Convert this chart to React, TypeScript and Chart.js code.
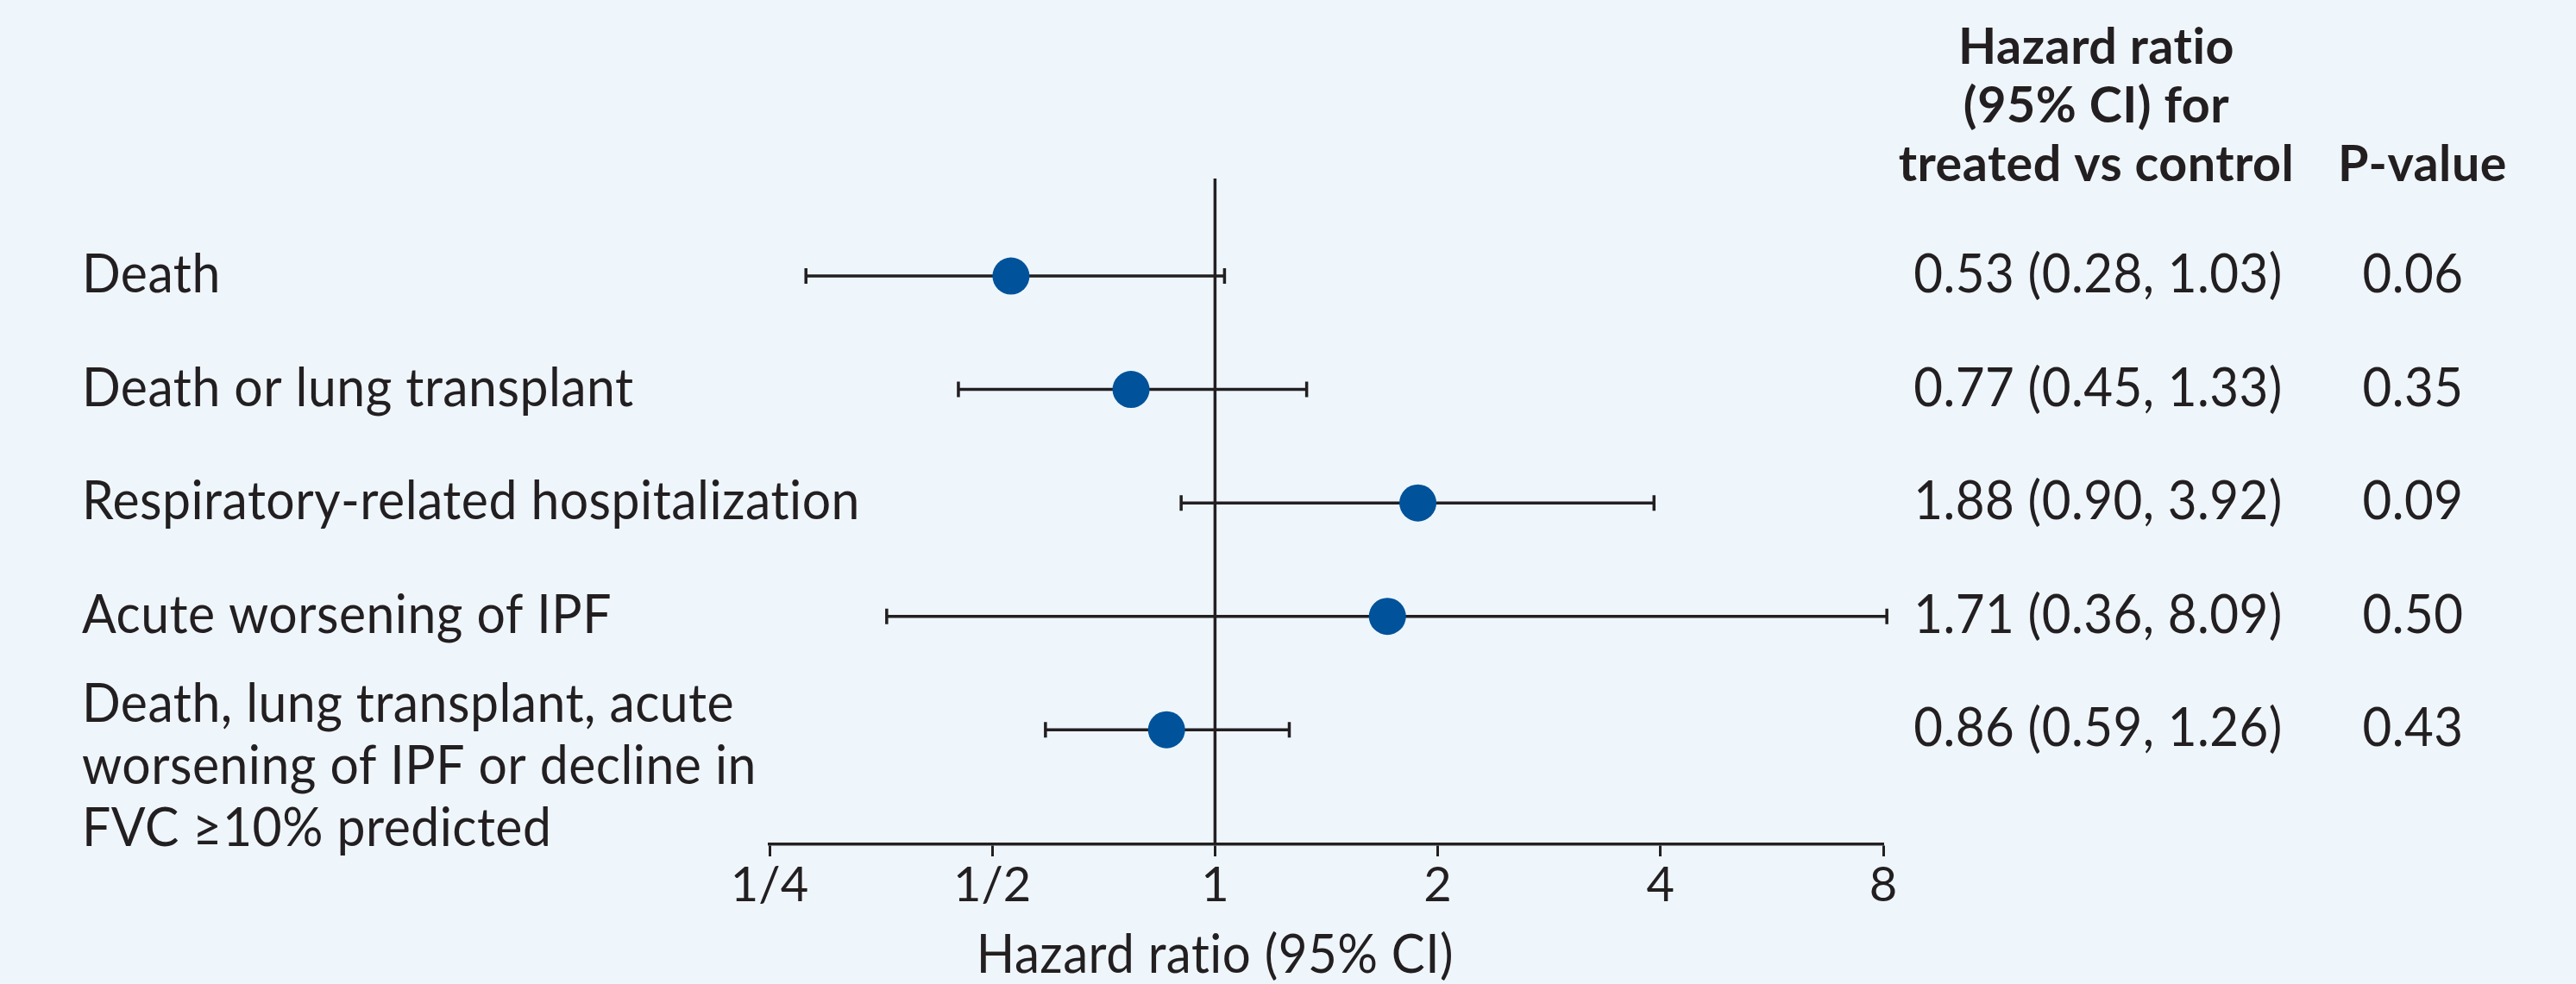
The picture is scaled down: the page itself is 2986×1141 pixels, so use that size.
import { useEffect, useRef } from "react";
import { Chart, registerables } from "chart.js";

Chart.register(...registerables);

// ---------- data ----------
const outcomeLabels: string[][] = [
  ["Death"],
  ["Death or lung transplant"],
  ["Respiratory-related hospitalization"],
  ["Acute worsening of IPF"],
  ["Death, lung transplant, acute", "worsening of IPF or decline in", "FVC \u226510% predicted"],
];
const hazardRatios = [0.53, 0.77, 1.88, 1.71, 0.86];
const ciLower = [0.28, 0.45, 0.9, 0.36, 0.59];
const ciUpper = [1.03, 1.33, 3.92, 8.09, 1.26];
const pValues = ["0.06", "0.35", "0.09", "0.50", "0.43"];
const tickValues = [0.25, 0.5, 1, 2, 4, 8];
const tickLabels = ["1/4", "1/2", "1", "2", "4", "8"];
const hrHeader = ["Hazard ratio", "(95% CI) for", "treated vs control"];
const pHeader = "P-value";
const axisTitle = "Hazard ratio (95% CI)";

// ---------- style ----------
const ink = "#231F20";
const dotColor = "#00529B";
const bg = "#EEF6FC";
const FAMILY = "Lato, 'Open Sans', sans-serif";
const W = 2986;
const H = 1141;

const fmt = (v: number) => v.toFixed(2);

function drawText(
  ctx: CanvasRenderingContext2D,
  text: string,
  x: number,
  y: number,
  font: string,
  align: CanvasTextAlign,
  sx: number
) {
  ctx.save();
  ctx.font = font;
  ctx.fillStyle = ink;
  ctx.textAlign = align;
  ctx.textBaseline = "alphabetic";
  try {
    (ctx as any).letterSpacing = "0.5px";
  } catch (e) {
    /* ignore */
  }
  ctx.translate(x, y);
  ctx.scale(sx, 1);
  ctx.fillText(text, 0, 0);
  ctx.restore();
}

const errorBarPlugin = {
  id: "errorBars",
  beforeDatasetDraw(chart: any, args: any) {
    if (args.index !== 1) return;
    const { ctx } = chart;
    const xs = chart.scales.x;
    const ys = chart.scales.y;
    ctx.save();
    ctx.strokeStyle = ink;
    ctx.lineWidth = 3.5;
    hazardRatios.forEach((_, i) => {
      const y = ys.getPixelForValue(i);
      const x1 = xs.getPixelForValue(ciLower[i]);
      const x2 = xs.getPixelForValue(ciUpper[i]);
      ctx.beginPath();
      ctx.moveTo(x1, y);
      ctx.lineTo(x2, y);
      ctx.moveTo(x1, y - 9);
      ctx.lineTo(x1, y + 9);
      ctx.moveTo(x2, y - 9);
      ctx.lineTo(x2, y + 9);
      ctx.stroke();
    });
    ctx.restore();
  },
};

const textPlugin = {
  id: "forestText",
  afterDraw(chart: any) {
    const { ctx } = chart;
    const xs = chart.scales.x;
    const ys = chart.scales.y;
    const body = `62px ${FAMILY}`;
    const bold = `bold 58px ${FAMILY}`;
    const sx = 0.95;

    // left outcome labels
    outcomeLabels.forEach((lines, i) => {
      const y = ys.getPixelForValue(i);
      const start = lines.length === 1 ? y + 19 : y - 9;
      lines.forEach((line, k) => drawText(ctx, line, 95, start + k * 72, body, "left", sx));
    });

    // headers
    hrHeader.forEach((line, k) => drawText(ctx, line, 2430, 74 + k * 68, bold, "center", 0.99));
    drawText(ctx, pHeader, 2808, 74 + 2 * 68, bold, "center", 0.99);

    // value columns
    hazardRatios.forEach((hr, i) => {
      const y = ys.getPixelForValue(i) + 19;
      drawText(ctx, `${fmt(hr)} (${fmt(ciLower[i])}, ${fmt(ciUpper[i])})`, 2432, y, body, "center", 0.94);
      drawText(ctx, pValues[i], 2797, y, body, "center", 0.94);
    });

    // axis title, centred on HR = 1
    drawText(ctx, axisTitle, xs.getPixelForValue(1), 1128, body, "center", 0.94);
  },
};

export default function App() {
  const ref = useRef<HTMLCanvasElement | null>(null);

  useEffect(() => {
    if (!ref.current) return;
    const yMin = -0.86;
    const yMax = 5.01;
    const chart = new Chart(ref.current, {
      type: "scatter",
      data: {
        datasets: [
          {
            type: "line",
            data: [
              { x: 1, y: yMin },
              { x: 1, y: yMax },
            ],
            borderColor: ink,
            borderWidth: 3.5,
            pointRadius: 0,
            order: 2,
          } as any,
          {
            type: "scatter",
            data: hazardRatios.map((hr, i) => ({ x: hr, y: i })),
            backgroundColor: dotColor,
            borderWidth: 0,
            pointRadius: 21.5,
            pointHoverRadius: 21.5,
            order: 1,
          },
        ],
      },
      options: {
        animation: false,
        responsive: false,
        devicePixelRatio: 1,
        layout: { padding: { top: 207, left: 892, right: 803, bottom: 0 } },
        plugins: { legend: { display: false }, tooltip: { enabled: false } },
        events: [],
        scales: {
          x: {
            type: "logarithmic",
            min: 0.25,
            max: 8,
            afterBuildTicks: (s: any) => {
              s.ticks = tickValues.map((v) => ({ value: v }));
            },
            afterFit: (s: any) => {
              s.height = H - 979;
            },
            ticks: {
              autoSkip: false,
              maxRotation: 0,
              padding: 0,
              color: ink,
              font: { family: FAMILY, size: 56 },
              callback: (v: any) => {
                const idx = tickValues.indexOf(Number(v));
                return idx >= 0 ? tickLabels[idx] : "";
              },
            },
            grid: {
              drawOnChartArea: false,
              drawTicks: true,
              tickLength: 14,
              tickWidth: 3,
              tickColor: ink,
            },
            border: { display: true, color: ink, width: 3.5 },
          },
          y: {
            type: "linear",
            reverse: true,
            min: yMin,
            max: yMax,
            display: false,
          },
        },
      },
      plugins: [errorBarPlugin, textPlugin],
    } as any);
    return () => chart.destroy();
  }, []);

  return (
    <div
      style={{
        position: "absolute",
        left: 0,
        top: 0,
        width: W,
        height: H,
        background: bg,
      }}
    >
      <canvas ref={ref} width={W} height={H} style={{ display: "block", width: W, height: H }} />
    </div>
  );
}
